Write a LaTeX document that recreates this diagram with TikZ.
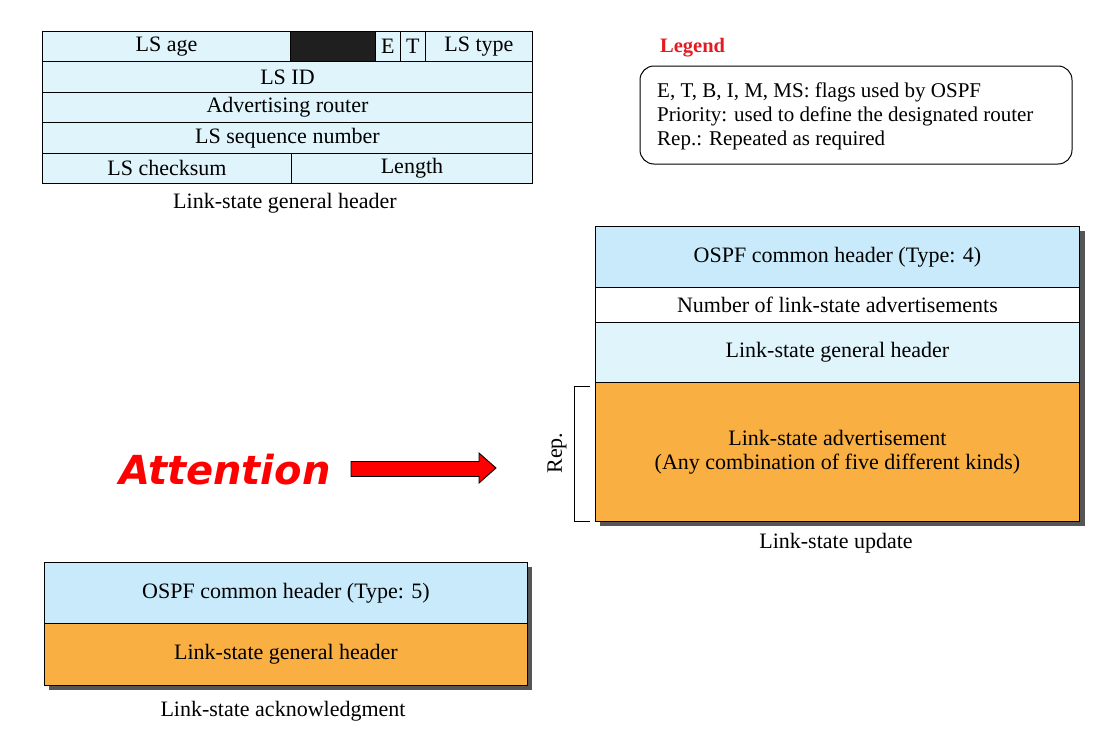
\documentclass[tikz,border=0pt]{standalone}
\usepackage{fontspec}
\setmainfont{Liberation Serif}
\newfontfamily\attfont{DejaVu Sans}
\definecolor{hdrblue}{HTML}{C8EAFA}
\definecolor{lightblue}{HTML}{E0F4FC}
\definecolor{lsaorange}{HTML}{F9AF41}
\definecolor{legred}{HTML}{E31B23}
\definecolor{shadowgray}{HTML}{555555}
\tikzset{
  field/.style={draw=black, line width=0.9pt, anchor=north west, inner sep=0pt, font=\fontsize{22}{24}\selectfont},
  caption/.style={font=\fontsize{22}{24}\selectfont, inner sep=0pt},
  legtext/.style={anchor=west, inner sep=0pt, font=\fontsize{21}{23}\selectfont},
  shadowbox/.style={fill=shadowgray, draw=none},
}
\begin{document}
\begin{tikzpicture}[x=1pt,y=-1pt]
\useasboundingbox (0,0) rectangle (1115,731);

% ---------- Link-state general header ----------
\node[field, fill=lightblue, minimum width=248pt, minimum height=30pt] (age) at (42,31) {LS age};
\node[field, fill=black!88, minimum width=85pt, minimum height=30pt] (blk) at (290,31) {};
\node[field, fill=lightblue, minimum width=25pt, minimum height=30pt] (e) at (375,31) {E};
\node[field, fill=lightblue, minimum width=25pt, minimum height=30pt] (t) at (400,31) {T};
\node[field, fill=lightblue, minimum width=107pt, minimum height=30pt] (type) at (425,31) {LS type};
\node[field, fill=lightblue, minimum width=490pt, minimum height=31pt] (lsid) at (42,61) {LS ID};
\node[field, fill=lightblue, minimum width=490pt, minimum height=30pt] (adv) at (42,92) {Advertising router};
\node[field, fill=lightblue, minimum width=490pt, minimum height=31pt] (seq) at (42,122) {LS sequence number};
\node[field, fill=lightblue, minimum width=249pt, minimum height=30pt] (chk) at (42,153) {LS checksum};
\node[field, fill=lightblue, minimum width=241pt, minimum height=30pt] (len) at (291,153) {Length};
\node[caption] (capgen) at (285,203) {Link-state general header};

% ---------- Legend ----------
\node[anchor=west, inner sep=0pt, text=legred, font=\fontsize{20.5}{22}\selectfont\bfseries] (legtitle) at (660,48) {Legend};
\draw[line width=1pt, rounded corners=14pt] (640,66) rectangle (1072,164);
\node[legtext] (leg1) at (657,92) {E, T, B, I, M, MS: flags used by OSPF};
\node[legtext] (leg2) at (657,116) {Priority: used to define the designated router};
\node[legtext] (leg3) at (657,140) {Rep.: Repeated as required};

% ---------- Link-state update ----------
\fill[shadowbox] (600,231) rectangle (1085,526);
\node[field, fill=hdrblue, minimum width=484pt, minimum height=61pt] (uhdr) at (595,226) {OSPF common header (Type: 4)};
\node[field, fill=white, minimum width=484pt, minimum height=35pt] (unum) at (595,287) {Number of link-state advertisements};
\node[field, fill=lightblue, minimum width=484pt, minimum height=60pt] (ugen) at (595,322) {Link-state general header};
\node[field, fill=lsaorange, minimum width=484pt, minimum height=139pt, align=center] (ulsa) at (595,382) {Link-state advertisement\\[0pt](Any combination of five different kinds)};
\node[caption] (capupd) at (836,543) {Link-state update};

% Rep. bracket
\coordinate (bt) at (590,386);
\coordinate (bb) at (590,521);
\draw[line width=0.8pt] (bt) -- (574,386) -- (574,521) -- (bb);
\node[caption, rotate=90] (rep) at (557,453) {Rep.};

% ---------- Attention arrow ----------
\node[anchor=west, inner sep=0pt, text=red, font=\attfont\fontsize{40}{42}\selectfont\bfseries\itshape] (att) at (119,470) {Attention};
\draw[line width=0.9pt, fill=red, line join=miter]
  (351,461.5) -- (479,461.5) -- (479,453) -- (496,468) -- (479,483) -- (479,476.5) -- (351,476.5) -- cycle;

% ---------- Link-state acknowledgment ----------
\fill[shadowbox] (49,567) rectangle (532,690);
\node[field, fill=hdrblue, minimum width=483pt, minimum height=61pt] (ahdr) at (44,562) {OSPF common header (Type: 5)};
\node[field, fill=lsaorange, minimum width=483pt, minimum height=62pt] (agen) at (44,623) {Link-state general header};
\node[caption] (capack) at (283,711) {Link-state acknowledgment};
\end{tikzpicture}
\end{document}
